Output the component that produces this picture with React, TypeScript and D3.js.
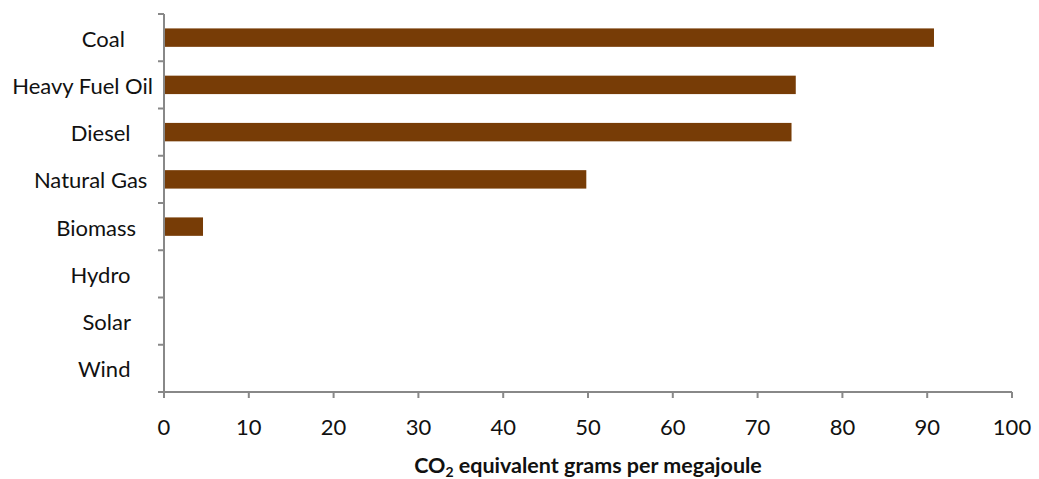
import React from "react";
import * as d3 from "d3";

const categories = ["Coal", "Heavy Fuel Oil", "Diesel", "Natural Gas", "Biomass", "Hydro", "Solar", "Wind"];
const labelPadding = ["     ", "", "    ", " ", "   ", "    ", "    ", "    "];
const values = [90.8, 74.5, 74.0, 49.8, 4.6, 0, 0, 0];
const xTicks = [0, 10, 20, 30, 40, 50, 60, 70, 80, 90, 100];

const W = 1039;
const H = 479;
const margin = { left: 164, right: 27, top: 14, bottom: 87 };
const FONT = "Lato, 'Open Sans', sans-serif";
const AXIS = "#888888";
const BAR = "#773c06";

export default function App() {
  const x = d3.scaleLinear().domain([0, 100]).range([margin.left, W - margin.right]);
  const y = d3
    .scaleBand<string>()
    .domain(categories)
    .range([margin.top, H - margin.bottom])
    .paddingInner(0.61)
    .paddingOuter(0.305);
  const yOuter = d3.scaleBand<string>().domain(categories).range([margin.top, H - margin.bottom]);
  const y0 = H - margin.bottom;
  const x0 = margin.left;

  return (
    <svg width={W} height={H} style={{ position: "absolute", left: 0, top: 0 }}>
      <rect width={W} height={H} fill="#fff" />
      {categories.map((c, i) => (
        <rect
          key={c}
          x={x(0)}
          y={y(c)!}
          width={x(values[i]) - x(0)}
          height={y.bandwidth()}
          fill={BAR}
        />
      ))}
      {/* y axis */}
      <line x1={x0} x2={x0} y1={margin.top} y2={y0 + 6} stroke={AXIS} strokeWidth={2} />
      {categories.map((c) => (
        <line key={"t" + c} x1={x0 - 6} x2={x0} y1={yOuter(c)!} y2={yOuter(c)!} stroke={AXIS} strokeWidth={2} />
      ))}
      <line x1={x0 - 6} x2={x(100)} y1={y0} y2={y0} stroke={AXIS} strokeWidth={2} />
      {xTicks.map((t) => (
        <g key={"x" + t}>
          <line x1={x(t)} x2={x(t)} y1={y0} y2={y0 + 6} stroke={AXIS} strokeWidth={2} />
          <text x={x(t)} y={y0 + 43} textAnchor="middle" fontFamily={FONT} fontSize={22} fill="#111">
            {t}
          </text>
        </g>
      ))}
      {categories.map((c, i) => (
        <text
          key={"l" + c}
          x={153}
          y={yOuter(c)! + yOuter.bandwidth() / 2 + 9}
          textAnchor="end"
          fontFamily={FONT}
          fontSize={22}
          fill="#111"
          xmlSpace="preserve"
          style={{ whiteSpace: "pre" }}
        >
          {c + labelPadding[i]}
        </text>
      ))}
      <text
        x={(x(0) + x(100)) / 2}
        y={H - 6}
        textAnchor="middle"
        fontFamily={FONT}
        fontSize={21.5}
        fontWeight="bold"
        fill="#111"
      >
        CO<tspan fontSize={14} dy={4}>2</tspan>
        <tspan dy={-4}> equivalent grams per megajoule</tspan>
      </text>
    </svg>
  );
}
